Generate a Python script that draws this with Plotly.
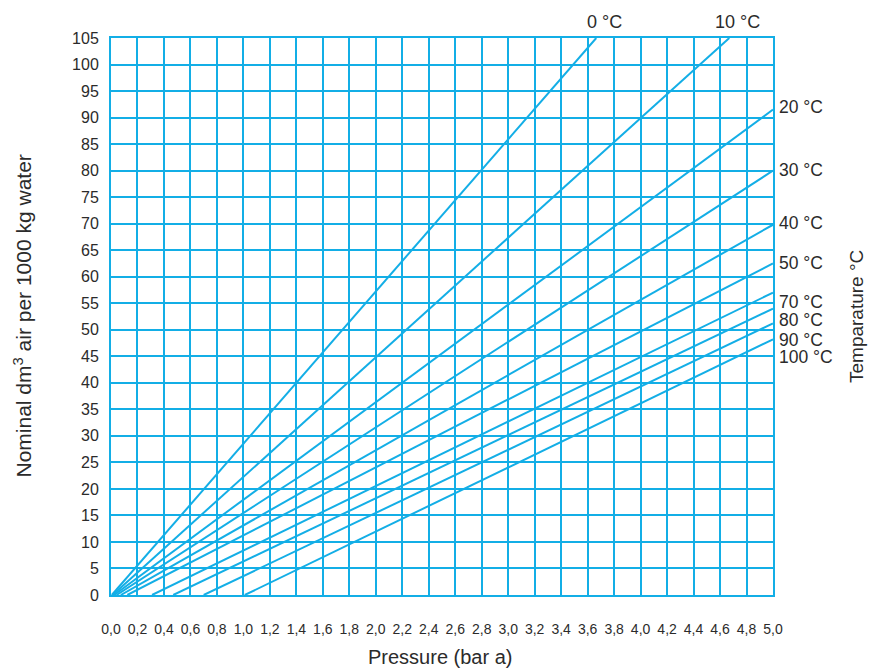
import plotly.graph_objects as go

# ---- data ----
temperatures = ["0 °C", "10 °C", "20 °C", "30 °C", "40 °C", "50 °C", "70 °C", "80 °C", "90 °C", "100 °C"]
start_pressure = [0.006, 0.012, 0.023, 0.042, 0.074, 0.123, 0.31, 0.47, 0.70, 1.01]
end_pressure = [3.665, 4.67, 5.0, 5.0, 5.0, 5.0, 5.0, 5.0, 5.0, 5.0]
end_air = [105, 105, 91.5, 80.0, 69.8, 62.5, 57.0, 54.0, 51.2, 48.2]

x_ticks = [round(i * 0.2, 1) for i in range(26)]
x_tick_labels = [f"{v:.1f}".replace(".", ",") for v in x_ticks]
y_ticks = list(range(0, 106, 5))

# label placement (layout, not data)
right_label_y = [None, None, 92, 80.1, 70.1, 62.6, 55.2, 51.8, 48.1, 44.9]

C = "#13aee6"
TXT = "#2b2b2b"
FONT = "Liberation Sans, Arial, sans-serif"

fig = go.Figure()
for name, x0, x1, y1 in zip(temperatures, start_pressure, end_pressure, end_air):
    fig.add_trace(go.Scatter(x=[x0, x1], y=[0, y1], mode="lines", name=name,
                             line=dict(color=C, width=2), showlegend=False,
                             hoverinfo="name"))

annotations = []
for name, x1, y1, ly in zip(temperatures, end_pressure, end_air, right_label_y):
    if ly is None:
        annotations.append(dict(x=x1, y=105, xref="x", yref="y", text=name,
                                showarrow=False, xanchor="center", yanchor="bottom",
                                yshift=4, xshift=8, font=dict(size=18, color=TXT, family=FONT)))
    else:
        annotations.append(dict(x=5.0, y=ly, xref="x", yref="y", text=name,
                                showarrow=False, xanchor="left", yanchor="middle",
                                xshift=4, font=dict(size=17.5, color=TXT, family=FONT)))

# axis titles
annotations.append(dict(x=1.0, y=0.5, xref="paper", yref="paper", text="Temparature °C",
                        textangle=-90, showarrow=False, xanchor="right", yanchor="middle",
                        xshift=96, font=dict(size=19, color=TXT, family=FONT)))
annotations.append(dict(x=0.0, y=0.5, xref="paper", yref="paper",
                        text="Nominal dm<sup>3</sup> air per 1000 kg water",
                        textangle=-90, showarrow=False, xanchor="center", yanchor="middle",
                        xshift=-89, font=dict(size=21, color=TXT, family=FONT)))
annotations.append(dict(x=0.497, y=0.0, xref="paper", yref="paper",
                        text="Pressure (bar a)", showarrow=False,
                        xanchor="center", yanchor="middle",
                        yshift=-62, font=dict(size=20, color=TXT, family=FONT)))

fig.update_layout(
    width=870, height=662,
    margin=dict(l=103, r=105, t=30, b=75),
    paper_bgcolor="white", plot_bgcolor="white",
    annotations=annotations,
    font=dict(family=FONT, color=TXT),
    xaxis=dict(range=[0, 5.0], tickvals=x_ticks, ticktext=x_tick_labels,
               showgrid=True, gridcolor=C, gridwidth=2, zeroline=False,
               showline=True, linecolor=C, linewidth=2, mirror=True,
               ticks="", ticklabelstandoff=20, tickfont=dict(size=14, color=TXT)),
    yaxis=dict(range=[0, 105], tickvals=y_ticks,
               showgrid=True, gridcolor=C, gridwidth=2, zeroline=False,
               showline=True, linecolor=C, linewidth=2, mirror=True,
               ticks="", ticklabelstandoff=7, tickfont=dict(size=16, color=TXT)),
)

fig.write_html("out.html")
